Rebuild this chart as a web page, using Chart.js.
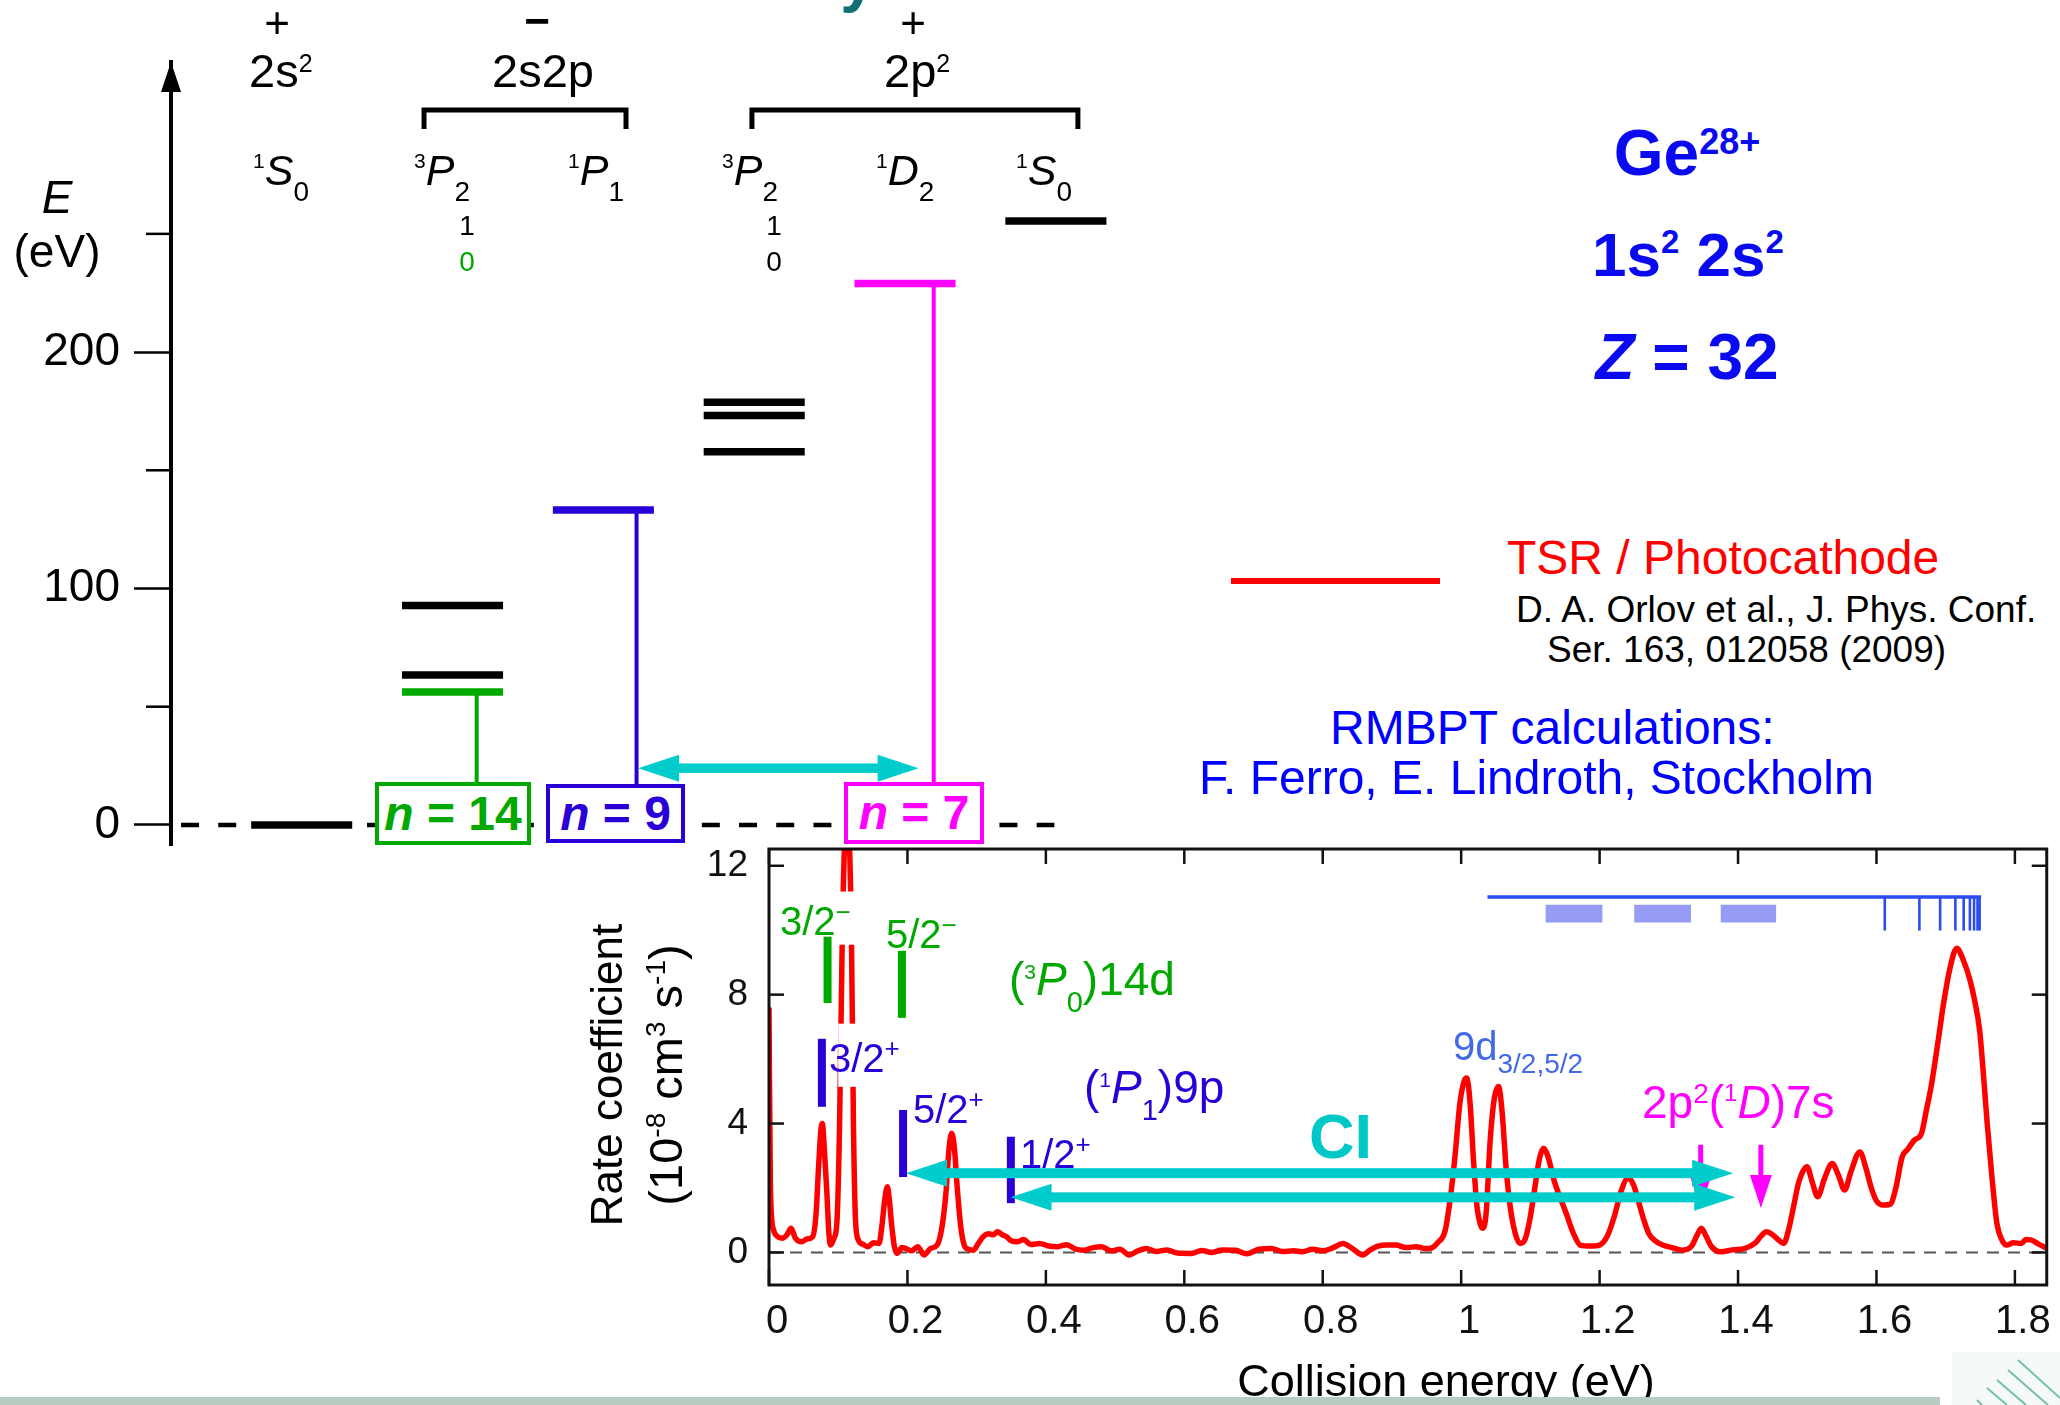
<!DOCTYPE html>
<html>
<head>
<meta charset="utf-8">
<script src="https://cdn.jsdelivr.net/npm/chart.js@4.4.0/dist/chart.umd.min.js"></script>
<style>
  html, body { margin: 0; padding: 0; background: #fff; }
  body { width: 2060px; height: 1405px; position: relative; overflow: hidden;
         font-family: "Liberation Sans", Arial, Helvetica, sans-serif; }
  canvas { position: absolute; }
  .t { position: absolute; white-space: nowrap; line-height: 1; z-index: 5; }
  .nbox { position: absolute; box-sizing: border-box; border: 4px solid; background: #fff;
          display: flex; align-items: center; justify-content: center;
          font-weight: bold; font-size: 48px; line-height: 1; z-index: 5; }
  #foot { position: absolute; left: 0; top: 1397px; width: 1940px; height: 8px; background: #b7cbc1; z-index: 9; }
  #corner { position: absolute; left: 1940px; top: 1340px; z-index: 9; }
  #swatch { position: absolute; left: 1231px; top: 578px; width: 209px; height: 6px; background: #ff0000; }
</style>
</head>
<body>
<canvas id="levels" width="1150" height="900" style="left:0;top:0"></canvas>
<canvas id="rate" width="1500" height="605" style="left:560px;top:800px"></canvas>
<div id="swatch"></div>
<div id="foot"></div>
<svg id="corner" width="120" height="65">
  <rect x="12" y="12" width="108" height="53" fill="#f5faf6"/>
  <g stroke="#74c0ae" stroke-width="2">
    <line x1="78" y1="20" x2="120" y2="58"/>
    <line x1="68" y1="30" x2="108" y2="65"/>
    <line x1="57" y1="40" x2="86" y2="65"/>
    <line x1="47" y1="48" x2="67" y2="65"/>
    <line x1="37" y1="60" x2="42" y2="65"/>
  </g>
</svg>
<script>
// ---------- energy levels of Ge28+ (eV) ----------
const levelColumn = [0, 1, 1, 1, 2, 3, 3, 3, 4, 5];
const levelEnergy = [0, 92.8, 63.4, 56.2, 133.2, 178.8, 173.2, 157.8, 229.0, 255.4];
const levelColour = ['#000', '#000', '#000', '#00a800', '#2a00d8', '#000', '#000', '#000', '#ff00ff', '#000'];
const levelHalfWidth = 0.335;

// Rydberg series attached to the core levels: column, core level, bottom
const seriesColumn = [1.16, 2.22, 4.19];
const seriesFrom = [56.2, 133.2, 229.0];
const seriesTo = [18.1, 17.3, 18.1];
const seriesColour = ['#00a800', '#2a00d8', '#ff00ff'];

const energyTicks = [0, 100, 200];
const energyMinorTicks = [50, 150, 250];
const zeroLineSpan = [-0.80, 4.99];
const coreMixArrow = [2.23, 4.09];
const coreMixEnergy = 24.0;

// ---------- merged-beam rate coefficient (1e-8 cm^3 s^-1) ----------
const collisionEnergy = [
  0.000, 0.002, 0.0065, 0.012, 0.019, 0.026, 0.032, 0.038, 0.047, 0.055,
  0.063, 0.068, 0.0715, 0.075, 0.077, 0.080, 0.0835, 0.0865, 0.089, 0.094,
  0.098, 0.102, 0.106, 0.1125, 0.119, 0.122, 0.125, 0.129, 0.136, 0.143,
  0.151, 0.159, 0.163, 0.167, 0.171, 0.174, 0.177, 0.181, 0.185, 0.192,
  0.198, 0.206, 0.215, 0.224, 0.233, 0.243, 0.250, 0.256, 0.260, 0.264,
  0.268, 0.272, 0.277, 0.282, 0.288, 0.295, 0.303, 0.310, 0.317, 0.324,
  0.330, 0.337, 0.343, 0.350, 0.359, 0.368, 0.378, 0.391, 0.404, 0.417,
  0.430, 0.443, 0.455, 0.468, 0.481, 0.494, 0.507, 0.520, 0.533, 0.545,
  0.560, 0.575, 0.590, 0.610, 0.625, 0.640, 0.655, 0.674, 0.690, 0.708,
  0.726, 0.742, 0.758, 0.771, 0.785, 0.800, 0.815, 0.829, 0.843, 0.858,
  0.868, 0.880, 0.893, 0.906, 0.920, 0.935, 0.948, 0.956, 0.966, 0.977,
  0.985, 0.991, 0.998, 1.004, 1.008, 1.013, 1.018, 1.023, 1.028, 1.031,
  1.036, 1.042, 1.048, 1.054, 1.059, 1.065, 1.071, 1.078, 1.085, 1.092,
  1.099, 1.106, 1.113, 1.119, 1.125, 1.134, 1.143, 1.152, 1.162, 1.172,
  1.186, 1.200, 1.211, 1.221, 1.231, 1.241, 1.249, 1.256, 1.264, 1.271,
  1.281, 1.291, 1.305, 1.319, 1.333, 1.340, 1.347, 1.354, 1.361, 1.375,
  1.392, 1.410, 1.425, 1.433, 1.441, 1.450, 1.458, 1.466, 1.473, 1.480,
  1.488, 1.4997, 1.507, 1.515, 1.525, 1.536, 1.545, 1.554, 1.563, 1.576,
  1.585, 1.592, 1.600, 1.610, 1.620, 1.628, 1.637, 1.645, 1.655, 1.665,
  1.672, 1.679, 1.688, 1.697, 1.706, 1.716, 1.725, 1.735, 1.742, 1.749,
  1.755, 1.760, 1.767, 1.774, 1.781, 1.788, 1.798, 1.809, 1.816, 1.823,
  1.835, 1.846
];
const rateCoefficient = [
  7.6, 2.0, 0.70, 0.50, 0.44, 0.55, 0.75, 0.45, 0.33, 0.42,
  0.49, 1.2, 2.6, 3.8, 4.0, 3.2, 1.9, 0.6, 0.23, 0.45,
  0.9, 4.0, 10.0, 13.8, 10.0, 4.0, 1.0, 0.39, 0.25, 0.18,
  0.30, 0.28, 0.8, 1.6, 2.04, 1.6, 0.9, 0.2, -0.03, 0.15,
  0.12, 0.05, 0.18, -0.08, 0.12, 0.23, 0.8, 1.94, 3.2, 3.7,
  3.2, 2.0, 0.8, 0.23, 0.10, 0.07, 0.30, 0.50, 0.58, 0.55,
  0.64, 0.55, 0.49, 0.36, 0.33, 0.40, 0.25, 0.28, 0.20, 0.18,
  0.24, 0.10, 0.07, 0.15, 0.18, 0.05, 0.10, -0.08, 0.05, 0.12,
  0.03, 0.08, -0.02, -0.03, 0.06, 0.0, 0.08, 0.07, -0.04, 0.10,
  0.12, 0.03, 0.05, 0.02, 0.10, 0.05, 0.15, 0.28, 0.12, -0.08,
  0.07, 0.20, 0.23, 0.23, 0.15, 0.18, 0.12, 0.13, 0.30, 0.69,
  1.8, 2.96, 4.6, 5.3, 5.41, 4.6, 2.8, 1.4, 0.85, 0.75,
  1.2, 3.5, 4.8, 5.15, 4.4, 2.6, 1.4, 0.6, 0.28, 0.39,
  1.0, 1.94, 2.9, 3.23, 3.0, 2.25, 1.7, 1.2, 0.6, 0.23,
  0.20, 0.23, 0.5, 1.1, 1.9, 2.3, 2.1, 1.6, 1.0, 0.59,
  0.35, 0.23, 0.15, 0.07, 0.20, 0.50, 0.75, 0.50, 0.20, 0.02,
  0.08, 0.13, 0.30, 0.50, 0.64, 0.55, 0.40, 0.28, 0.70, 1.4,
  2.2, 2.66, 2.2, 1.73, 2.3, 2.76, 2.4, 1.94, 2.5, 3.12,
  2.6, 2.04, 1.6, 1.47, 1.5, 2.0, 2.96, 3.2, 3.49, 3.69,
  4.4, 5.15, 6.4, 7.73, 8.8, 9.44, 9.1, 8.46, 7.8, 6.9,
  5.4, 4.0, 2.3, 0.9, 0.4, 0.23, 0.30, 0.28, 0.40, 0.39,
  0.25, 0.13
];

// calculated (3P0)14d resonances: energy, bar bottom, bar top
const p0BarEnergy = [0.0846, 0.192];
const p0BarLow = [7.74, 7.28];
const p0BarHigh = [9.80, 9.36];
// calculated (1P1)9p resonances
const p1BarEnergy = [0.0764, 0.1937, 0.3494];
const p1BarLow = [4.52, 2.34, 1.53];
const p1BarHigh = [6.63, 4.42, 3.59];
// configuration interaction arrows
const ciArrowFrom = [0.198, 0.349];
const ciArrowTo = [1.393, 1.396];
const ciArrowRate = [2.46, 1.71];
// 2p2(1D)7s markers
const d7sEnergy = [1.346, 1.433];
const d7sTop = 3.34;
const d7sTip = 1.38;
// 9d series towards the 1P1 limit
const limitSpan = [1.038, 1.749];
const limitRate = 11.03;
const limitTickRate = 9.99;
const rydbergEnergy = [1.612, 1.662, 1.692, 1.714, 1.726, 1.735, 1.741, 1.746, 1.749];
const bandFrom = [1.122, 1.250, 1.375];
const bandTo = [1.204, 1.332, 1.455];
const bandRate = [10.24, 10.79];
// white gaps left behind the 3/2 labels on the tall peak
const labelGaps = [[0.100, 0.127, 9.55, 11.2], [0.100, 0.127, 5.14, 7.1]];

Chart.defaults.font.family = '"Liberation Sans", Arial, Helvetica, sans-serif';
Chart.defaults.color = '#000';

function tri(ctx, ax, ay, bx, by, cx, cy) {
  ctx.beginPath(); ctx.moveTo(ax, ay); ctx.lineTo(bx, by); ctx.lineTo(cx, cy); ctx.closePath(); ctx.fill();
}
function doubleArrow(ctx, x1, x2, y, shaft, len, half, colour) {
  ctx.fillStyle = colour;
  ctx.fillRect(x1 + len * 0.8, y - shaft / 2, x2 - x1 - len * 1.6, shaft);
  tri(ctx, x1, y, x1 + len, y - half, x1 + len, y + half);
  tri(ctx, x2, y, x2 - len, y - half, x2 - len, y + half);
}
function seg(ctx, x1, y1, x2, y2) {
  ctx.beginPath(); ctx.moveTo(x1, y1); ctx.lineTo(x2, y2); ctx.stroke();
}

// ---------- level diagram ----------
const lineBase = { showLine: true, pointRadius: 0, borderCapStyle: 'butt', fill: false, clip: false };
const levelSets = levelEnergy.map((e, i) => ({
  ...lineBase, order: 1, borderWidth: 7.5, borderColor: levelColour[i],
  data: [{ x: levelColumn[i] - levelHalfWidth, y: e }, { x: levelColumn[i] + levelHalfWidth, y: e }]
}));
const seriesSets = seriesColumn.map((c, i) => ({
  ...lineBase, order: 2, borderWidth: 4, borderColor: seriesColour[i],
  data: [{ x: c, y: seriesFrom[i] }, { x: c, y: seriesTo[i] }]
}));
const zeroSet = {
  ...lineBase, order: 3, borderWidth: 4.5, borderColor: '#000', borderDash: [18, 19.2],
  data: [{ x: zeroLineSpan[0], y: 0 }, { x: zeroLineSpan[1], y: 0 }]
};

const levelDeco = {
  id: 'levelDeco',
  afterDatasetsDraw(chart) {
    const { ctx, scales: { x, y } } = chart;
    ctx.save();
    doubleArrow(ctx, x.getPixelForValue(coreMixArrow[0]), x.getPixelForValue(coreMixArrow[1]),
      y.getPixelForValue(coreMixEnergy), 9.5, 41, 13.5, '#00cccc');
    ctx.restore();
  },
  afterDraw(chart) {
    const { ctx, chartArea: a, scales: { x, y } } = chart;
    ctx.save();
    ctx.strokeStyle = '#000';
    ctx.lineWidth = 2.5;
    energyMinorTicks.forEach(v => seg(ctx, a.left - 25, y.getPixelForValue(v), a.left, y.getPixelForValue(v)));
    // arrow tip on the energy axis
    ctx.fillStyle = '#000';
    tri(ctx, a.left, a.top, a.left - 10, a.top + 30, a.left + 10, a.top + 30);
    // configuration brackets over 2s2p and 2p2
    ctx.lineWidth = 5;
    [[0.811, 2.150], [2.985, 5.146]].forEach(([c0, c1]) => {
      const x0 = x.getPixelForValue(c0), x1 = x.getPixelForValue(c1);
      ctx.beginPath();
      ctx.moveTo(x0, 129); ctx.lineTo(x0, 110); ctx.lineTo(x1, 110); ctx.lineTo(x1, 129);
      ctx.stroke();
    });
    ctx.restore();
  }
};

new Chart(document.getElementById('levels'), {
  type: 'scatter',
  data: { datasets: [...levelSets, ...seriesSets, zeroSet] },
  options: {
    responsive: false, animation: false, devicePixelRatio: 1,
    layout: { padding: { top: 62, bottom: 55, left: 0, right: 0 } },
    plugins: { legend: { display: false }, tooltip: { enabled: false } },
    scales: {
      x: { type: 'linear', display: false, min: -0.8665, max: 5.624 },
      y: {
        type: 'linear', min: -8.5, max: 322.7,
        afterFit: s => { s.width = 171; },
        afterBuildTicks: s => { s.ticks = energyTicks.map(v => ({ value: v })); },
        grid: { drawOnChartArea: false, drawTicks: true, tickLength: 37, tickWidth: 2.5, color: '#000' },
        border: { display: true, width: 4, color: '#000' },
        ticks: { font: { size: 46, lineHeight: 1 }, padding: 14, color: '#000' }
      }
    }
  },
  plugins: [levelDeco]
});

// ---------- rate coefficient spectrum ----------
const spectrumDeco = {
  id: 'spectrumDeco',
  beforeDatasetsDraw(chart) {
    const { ctx, chartArea: a, scales: { y } } = chart;
    const y0 = y.getPixelForValue(0);
    ctx.save();
    ctx.strokeStyle = '#555'; ctx.lineWidth = 2; ctx.setLineDash([12, 9]);
    seg(ctx, a.left, y0, a.right, y0);
    ctx.restore();
  },
  afterDatasetsDraw(chart) {
    const { ctx, scales: { x, y } } = chart;
    const X = v => x.getPixelForValue(v), Y = v => y.getPixelForValue(v);
    ctx.save();
    ctx.fillStyle = '#fff';
    labelGaps.forEach(([e0, e1, r0, r1]) => ctx.fillRect(X(e0), Y(r1), X(e1) - X(e0), Y(r0) - Y(r1)));

    ctx.lineCap = 'butt';
    ctx.lineWidth = 8;
    ctx.strokeStyle = '#00a800';
    p0BarEnergy.forEach((e, i) => seg(ctx, X(e), Y(p0BarLow[i]), X(e), Y(p0BarHigh[i])));
    ctx.strokeStyle = '#2a00d8';
    p1BarEnergy.forEach((e, i) => seg(ctx, X(e), Y(p1BarLow[i]), X(e), Y(p1BarHigh[i])));

    // 2p2(1D)7s arrows
    ctx.strokeStyle = '#ff00ff'; ctx.fillStyle = '#ff00ff'; ctx.lineWidth = 5;
    d7sEnergy.forEach(e => {
      seg(ctx, X(e), Y(d7sTop), X(e), Y(d7sTip) - 30);
      tri(ctx, X(e), Y(d7sTip), X(e) - 11, Y(d7sTip) - 33, X(e) + 11, Y(d7sTip) - 33);
    });

    ciArrowRate.forEach((r, i) => doubleArrow(ctx, X(ciArrowFrom[i]), X(ciArrowTo[i]), Y(r), 10, 41, 13.5, '#00cccc'));

    // series limit with its Rydberg lines and unresolved bands
    ctx.fillStyle = '#969bf5';
    bandFrom.forEach((e, i) => ctx.fillRect(X(e), Y(bandRate[1]), X(bandTo[i]) - X(e), Y(bandRate[0]) - Y(bandRate[1])));
    ctx.strokeStyle = '#2b4cf0'; ctx.lineWidth = 3.3;
    seg(ctx, X(limitSpan[0]), Y(limitRate), X(limitSpan[1]) + 1.5, Y(limitRate));
    ctx.lineWidth = 2.6;
    rydbergEnergy.forEach(e => seg(ctx, X(e), Y(limitRate), X(e), Y(limitTickRate)));
    ctx.restore();
  },
  afterDraw(chart) {
    const { ctx, chartArea: a, scales: { x, y } } = chart;
    ctx.save();
    ctx.strokeStyle = '#111';
    ctx.lineWidth = 3;
    ctx.strokeRect(a.left, a.top, a.right - a.left, a.bottom - a.top);
    ctx.lineWidth = 2.5;
    x.ticks.forEach(t => {
      const p = x.getPixelForValue(t.value);
      seg(ctx, p, a.bottom, p, a.bottom - 15);
      seg(ctx, p, a.top, p, a.top + 15);
    });
    y.ticks.forEach(t => {
      const p = y.getPixelForValue(t.value);
      seg(ctx, a.left, p, a.left + 15, p);
      seg(ctx, a.right, p, a.right - 15, p);
    });
    ctx.restore();
  }
};

new Chart(document.getElementById('rate'), {
  type: 'scatter',
  data: {
    datasets: [{
      data: collisionEnergy.map((e, i) => ({ x: e, y: rateCoefficient[i] })),
      showLine: true, pointRadius: 0, borderColor: '#ff0000', borderWidth: 5.5,
      cubicInterpolationMode: 'monotone', borderJoinStyle: 'round', fill: false
    }]
  },
  options: {
    responsive: false, animation: false, devicePixelRatio: 1,
    layout: { padding: { top: 49, right: 12, left: 0, bottom: 0 } },
    plugins: { legend: { display: false }, tooltip: { enabled: false } },
    scales: {
      x: {
        type: 'linear', min: 0, max: 1.846,
        afterFit: s => { s.height = 120; },
        grid: { display: false, drawTicks: false },
        border: { display: false },
        ticks: {
          stepSize: 0.2, includeBounds: false, padding: 17, labelOffset: 8, maxRotation: 0,
          font: { size: 40, lineHeight: 1 }, color: '#111',
          callback: v => String(+v.toFixed(1))
        }
      },
      y: {
        type: 'linear', min: -1.01, max: 12.52,
        afterFit: s => { s.width = 209; },
        grid: { display: false, drawTicks: false },
        border: { display: false },
        ticks: { stepSize: 4, includeBounds: false, padding: 21, font: { size: 37, lineHeight: 1 }, color: '#111' }
      }
    }
  },
  plugins: [spectrumDeco]
});

// ---------- text ----------
function put(html, x, base, size, opt = {}) {
  const d = document.createElement('div');
  d.className = 't';
  d.innerHTML = html;
  d.style.fontSize = size + 'px';
  d.style.left = x + 'px';
  d.style.top = (base - 0.847 * size) + 'px';
  d.style.color = opt.color || '#000';
  if (opt.bold) d.style.fontWeight = 'bold';
  if (opt.center) d.style.transform = 'translateX(-50%)';
  document.body.appendChild(d);
  return d;
}
function putUp(html, cx, cy, size, colour) {
  const d = document.createElement('div');
  d.className = 't';
  d.innerHTML = html;
  d.style.fontSize = size + 'px';
  d.style.left = cx + 'px';
  d.style.top = cy + 'px';
  d.style.color = colour || '#000';
  d.style.transform = 'translate(-50%, -50%) rotate(-90deg)';
  document.body.appendChild(d);
}
const sh = (t, size, dy) => `<span style="font-size:${size}px;position:relative;top:${dy}px">${t}</span>`;
const it = t => `<i>${t}</i>`;
function nBox(html, left, top, w, h, colour) {
  const d = document.createElement('div');
  d.className = 'nbox';
  d.innerHTML = html;
  Object.assign(d.style, { left: left + 'px', top: top + 'px', width: w + 'px', height: h + 'px', color: colour, borderColor: colour });
  document.body.appendChild(d);
}

const GREEN = '#00a800', BLUE = '#2a00d8', MAG = '#ff00ff', CYAN = '#00c8c8';

put('y', 858, 0, 64, { bold: true, center: true, color: '#0f6f73' });

// parity, configuration and term rows
put('+', 277, 38, 44, { center: true });
put('&minus;', 537, 36, 44, { center: true, bold: true });
put('+', 913, 38, 44, { center: true });
put('2s' + sh('2', 25, -15), 249, 87, 47);
put('2s2p', 492, 87, 47);
put('2p' + sh('2', 25, -15), 884, 87, 47);
const term = (m, L, j) => sh(m, 21, -17) + it(L) + sh(j, 28, 16.7);
put(term('1', 'S', '0'), 253, 185, 43);
put(term('3', 'P', '2'), 414, 185, 43);
put(term('1', 'P', '1'), 568, 185, 43);
put(term('3', 'P', '2'), 722, 185, 43);
put(term('1', 'D', '2'), 876, 185, 43);
put(term('1', 'S', '0'), 1016, 185, 43);
put('1', 467, 236, 28, { center: true });
put('0', 467, 272, 28, { center: true, color: GREEN });
put('1', 774, 236, 28, { center: true });
put('0', 774, 272, 28, { center: true });
put(it('E'), 57, 213, 46, { center: true });
put('(eV)', 57, 267, 46, { center: true });

nBox(it('n') + '&nbsp;= 14', 375, 782, 156, 63, GREEN);
nBox(it('n') + '&nbsp;= 9', 546, 784, 139, 59, BLUE);
nBox(it('n') + '&nbsp;= 7', 844, 782, 140, 62, MAG);

// ion and references
put('Ge' + sh('28+', 36, -21), 1687, 175, 64, { center: true, bold: true, color: '#0a0af0' });
put('1s' + sh('2', 33, -23) + ' 2s' + sh('2', 33, -23), 1688, 277, 62, { center: true, bold: true, color: '#0a0af0' });
put(it('Z') + ' = 32', 1687, 379, 64, { center: true, bold: true, color: '#0a0af0' });
put('TSR / Photocathode', 1507, 575, 48, { color: '#ff0000' });
put('D. A. Orlov et al., J. Phys. Conf.', 1516, 622, 37);
put('Ser. 163, 012058 (2009)', 1547, 662, 37);
put('RMBPT calculations:', 1330, 745, 48, { color: '#0000ff' });
put('F. Ferro, E. Lindroth, Stockholm', 1199, 795, 48, { color: '#0000ff' });

// spectrum annotations
put('3/2' + sh('&minus;', 26, -14), 780, 935, 40, { color: GREEN });
put('5/2' + sh('&minus;', 26, -14), 886, 948, 40, { color: GREEN });
put('(' + sh('3', 21, -16) + it('P') + sh('0', 29, 17) + ')14d', 1009, 995, 46, { color: GREEN });
put('3/2' + sh('+', 26, -15), 829, 1072, 40, { color: BLUE });
put('5/2' + sh('+', 26, -15), 913, 1123, 40, { color: BLUE });
put('1/2' + sh('+', 26, -15), 1020, 1168, 40, { color: BLUE });
put('(' + sh('1', 21, -16) + it('P') + sh('1', 29, 17) + ')9p', 1084, 1103, 46, { color: BLUE });
put('CI', 1309, 1158, 63, { bold: true, color: CYAN });
put('9d' + sh('3/2,5/2', 28, 13), 1453, 1060, 40, { color: '#4169e8' });
put('2p' + sh('2', 28, -15) + '(' + sh('1', 24, -17) + it('D') + ')7s', 1642, 1118, 46, { color: MAG });

putUp('Rate coefficient', 607, 1075, 44);
putUp('(10' + sh('-8', 28, -17) + ' cm' + sh('3', 28, -17) + ' s' + sh('-1', 28, -17) + ')', 665, 1075, 47);
put('Collision energy (eV)', 1446, 1396, 45, { center: true });
</script>
</body>
</html>
